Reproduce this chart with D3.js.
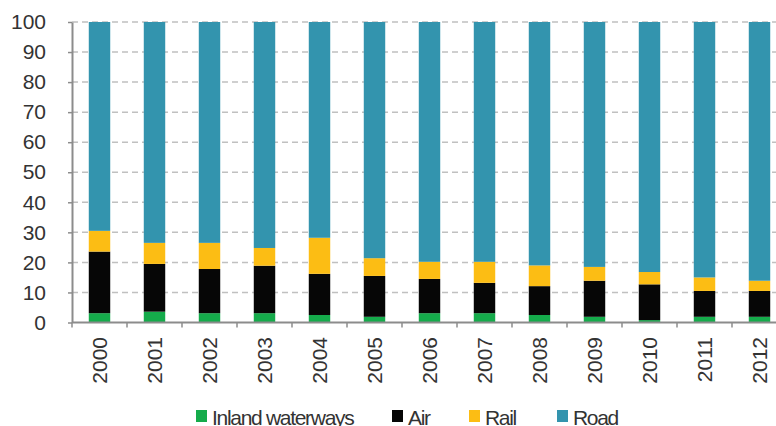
<!DOCTYPE html>
<html>
<head>
<meta charset="utf-8">
<script src="https://cdn.jsdelivr.net/npm/d3@7"></script>
<style>
  body { margin: 0; background: #fff; }
  svg { display: block; font-family: "Liberation Sans", Arial, sans-serif; }
</style>
</head>
<body>
<div id="chart"></div>
<script>
// data (share in %)
var years = ["2000", "2001", "2002", "2003", "2004", "2005", "2006", "2007", "2008", "2009", "2010", "2011", "2012"];
var inland = [3.1, 3.6, 3.1, 3.1, 2.5, 1.9, 3.1, 3.1, 2.5, 1.9, 0.8, 1.9, 1.9];
var air    = [20.5, 15.9, 14.7, 15.8, 13.7, 13.6, 11.4, 10.1, 9.6, 12.0, 11.9, 8.6, 8.6];
var rail   = [6.9, 7.0, 8.7, 5.9, 12.0, 5.9, 5.7, 7.0, 6.9, 4.6, 4.1, 4.5, 3.4];
var road   = [69.5, 73.5, 73.5, 75.2, 71.8, 78.6, 79.8, 79.8, 81.0, 81.5, 83.2, 85.0, 86.1];
var seriesNames = ["Inland waterways", "Air", "Rail", "Road"];
var yTicks = [0, 10, 20, 30, 40, 50, 60, 70, 80, 90, 100];

var colors = ["#15ab4b", "#060606", "#fcbd14", "#3394ae"];

var svgWidth = 776, svgHeight = 426;
var svg = d3.select("#chart").append("svg")
    .attr("width", svgWidth)
    .attr("height", svgHeight);

// plot area (runs past the right edge, as in the original)
var plotLeft = 72, plotStep = 55, plotTop = 22, plotBottom = 322.5;

var xScale = d3.scaleBand()
    .domain(years)
    .range([plotLeft, plotLeft + plotStep * years.length])
    .paddingInner(0.61)
    .paddingOuter(0.305);

var yScale = d3.scaleLinear()
    .domain([0, 100])
    .range([plotBottom, plotTop]);

// build rows for the stack
var rows = years.map(function(y, i) {
    return { year: y, "Inland waterways": inland[i], "Air": air[i], "Rail": rail[i], "Road": road[i] };
});
var stacked = d3.stack().keys(seriesNames)(rows);

// gridlines
svg.append("g")
    .selectAll("line")
    .data(yTicks.filter(function(d) { return d > 0; }))
    .enter()
    .append("line")
    .attr("x1", plotLeft)
    .attr("x2", svgWidth)
    .attr("y1", function(d) { return yScale(d); })
    .attr("y2", function(d) { return yScale(d); })
    .attr("stroke", "#c0c0c0")
    .attr("stroke-width", 1.5)
    .attr("stroke-dasharray", "6,4");

// bars
svg.append("g")
    .selectAll("g")
    .data(stacked)
    .enter()
    .append("g")
    .attr("fill", function(d, i) { return colors[i]; })
    .selectAll("rect")
    .data(function(d) { return d; })
    .enter()
    .append("rect")
    .attr("x", function(d) { return xScale(d.data.year); })
    .attr("width", xScale.bandwidth())
    .attr("y", function(d) { return yScale(d[1]); })
    .attr("height", function(d) { return yScale(d[0]) - yScale(d[1]); });

// y axis
var leftAxis = d3.axisLeft(yScale)
    .tickValues(yTicks)
    .tickSize(4)
    .tickSizeOuter(0)
    .tickPadding(22);

var yAxisG = svg.append("g")
    .attr("transform", "translate(" + plotLeft + ",0)")
    .call(leftAxis);
yAxisG.select(".domain").attr("stroke", "#8c8c8c").attr("stroke-width", 2);
yAxisG.selectAll(".tick line").attr("stroke", "#8c8c8c").attr("stroke-width", 1.5);
yAxisG.selectAll(".tick text")
    .attr("fill", "#333")
    .style("font-size", "21px");

// x axis line and ticks at category boundaries
svg.append("line")
    .attr("x1", plotLeft)
    .attr("x2", svgWidth)
    .attr("y1", plotBottom)
    .attr("y2", plotBottom)
    .attr("stroke", "#8c8c8c")
    .attr("stroke-width", 2);

svg.append("g")
    .selectAll("line")
    .data(years)
    .enter()
    .append("line")
    .attr("x1", function(d) { return xScale(d) - xScale.step() * xScale.paddingOuter(); })
    .attr("x2", function(d) { return xScale(d) - xScale.step() * xScale.paddingOuter(); })
    .attr("y1", plotBottom)
    .attr("y2", plotBottom + 5)
    .attr("stroke", "#8c8c8c")
    .attr("stroke-width", 1.5);

// x labels, rotated
svg.append("g")
    .selectAll("text")
    .data(years)
    .enter()
    .append("text")
    .attr("transform", function(d) {
        return "translate(" + (xScale(d) + xScale.bandwidth() / 2) + "," + 337 + ") rotate(-90)";
    })
    .attr("text-anchor", "end")
    .attr("dominant-baseline", "central")
    .attr("fill", "#333")
    .style("font-size", "21px")
    .text(function(d) { return d; });

// legend
var legendX = [196, 392, 469, 557];
var legend = svg.append("g")
    .selectAll("g")
    .data(seriesNames)
    .enter()
    .append("g")
    .attr("transform", function(d, i) { return "translate(" + legendX[i] + ",410)"; });

legend.append("rect")
    .attr("width", 11)
    .attr("height", 12)
    .attr("fill", function(d, i) { return colors[i]; });

legend.append("text")
    .attr("x", 16)
    .attr("y", 15)
    .attr("fill", "#333")
    .style("font-size", "21px")
    .style("letter-spacing", "-1.3px")
    .text(function(d) { return d; });
</script>
</body>
</html>
